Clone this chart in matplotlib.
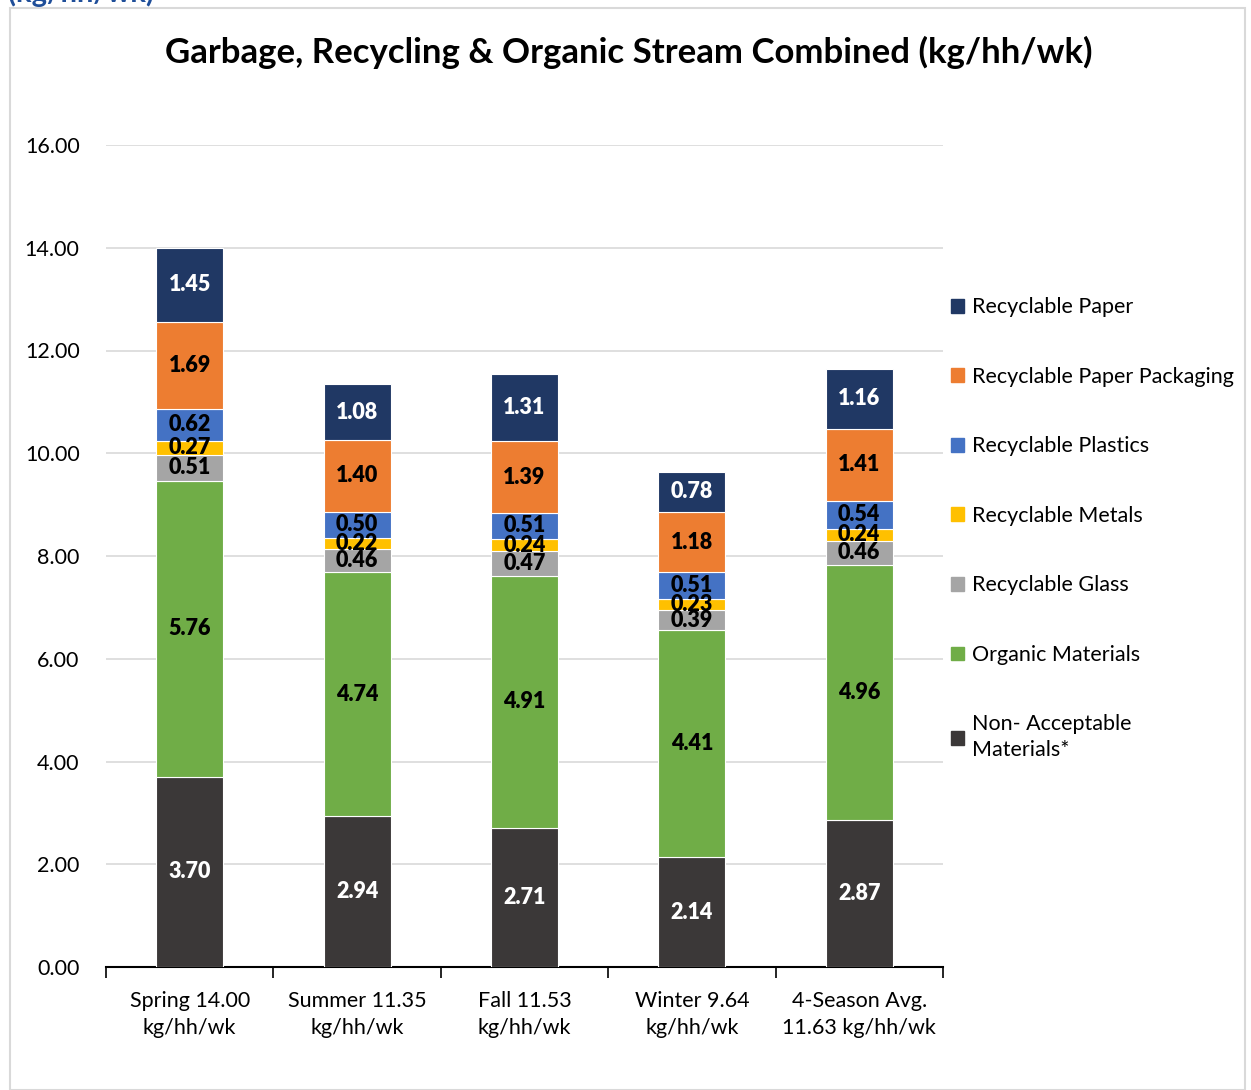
import matplotlib.pyplot as plt
from matplotlib.patches import Rectangle, Patch
import numpy as np

plt.rcParams['font.family'] = ['Lato', 'DejaVu Sans']

categories = ["Spring 14.00\nkg/hh/wk", "Summer 11.35\nkg/hh/wk", "Fall 11.53\nkg/hh/wk",
              "Winter 9.64\nkg/hh/wk", "4-Season Avg.\n11.63 kg/hh/wk"]

# stacked from bottom to top
series_names = ["Non- Acceptable\nMaterials*", "Organic Materials", "Recyclable Glass",
                "Recyclable Metals", "Recyclable Plastics", "Recyclable Paper Packaging",
                "Recyclable Paper"]
non_acceptable = [3.70, 2.94, 2.71, 2.14, 2.87]
organic = [5.76, 4.74, 4.91, 4.41, 4.96]
glass = [0.51, 0.46, 0.47, 0.39, 0.46]
metals = [0.27, 0.22, 0.24, 0.23, 0.24]
plastics = [0.62, 0.50, 0.51, 0.51, 0.54]
packaging = [1.69, 1.40, 1.39, 1.18, 1.41]
paper = [1.45, 1.08, 1.31, 0.78, 1.16]

series_values = [non_acceptable, organic, glass, metals, plastics, packaging, paper]
colors = ["#3B3838", "#70AD47", "#A5A5A5", "#FFC000", "#4472C4", "#ED7D31", "#203864"]
label_colors = ["white", "black", "black", "black", "black", "black", "white"]

fig = plt.figure(figsize=(12.51, 10.9), dpi=100)
ax = fig.add_axes([106/1251, 1 - 967/1090, 837/1251, 822/1090])

# chart border and cut-off header text
fig.patches.append(Rectangle((10/1251, 0), 1235/1251, 1 - 8/1090, transform=fig.transFigure,
                             fill=False, edgecolor="#D9D9D9", linewidth=1.5))
fig.text(8/1251, 1 - 2/1090, "(kg/hh/wk)", color="#1F4E99", fontsize=21, fontweight='bold',
         va='baseline', ha='left')

x = np.arange(len(categories))
bottom = np.zeros(len(categories))
for vals, col, lc in zip(series_values, colors, label_colors):
    vals = np.array(vals)
    ax.bar(x, vals, width=0.4, bottom=bottom, color=col, edgecolor='white', linewidth=0.8, zorder=3)
    for xi, b, v in zip(x, bottom, vals):
        ax.text(xi, b + v / 2, "%.2f" % v, ha='center', va='center', color=lc,
                fontsize=15.5, fontweight='heavy', zorder=4)
    bottom += vals

ax.set_xlim(-0.5, len(categories) - 0.5)
ax.set_ylim(0, 16)
ax.set_yticks(np.arange(0, 17, 2))
ax.set_yticklabels(["%.2f" % v for v in np.arange(0, 17, 2)], fontsize=15.5)
ax.yaxis.grid(True, color="#D9D9D9", linewidth=1.2, zorder=0)
ax.tick_params(axis='y', length=0, pad=19)

ax.set_xticks(x)
ax.set_xticklabels(categories, fontsize=15.5, linespacing=1.45)
ax.set_xticks(np.arange(-0.5, len(categories)), minor=True)
ax.tick_params(axis='x', which='major', length=0, pad=17)
ax.tick_params(axis='x', which='minor', length=8, width=1.2, color='black', direction='out')

for s in ['top', 'right', 'left']:
    ax.spines[s].set_visible(False)
ax.spines['bottom'].set_color('black')
ax.spines['bottom'].set_linewidth(1.5)

fig.text(0.5 * (162 + 1096) / 1251, 1 - 52/1090, "Garbage, Recycling & Organic Stream Combined (kg/hh/wk)",
         ha='center', va='center', fontsize=25, fontweight='bold')

handles = [Patch(color=c) for c in colors[::-1]]
leg = fig.legend(handles, series_names[::-1], loc='upper left',
                 bbox_to_anchor=(932/1251, 1 - 278/1090), frameon=False, fontsize=15.5,
                 handlelength=0.6, handleheight=0.6, handletextpad=0.35, labelspacing=2.3)
for t in leg.get_texts():
    t.set_linespacing(1.35)

fig.savefig("out.png", dpi=100)
